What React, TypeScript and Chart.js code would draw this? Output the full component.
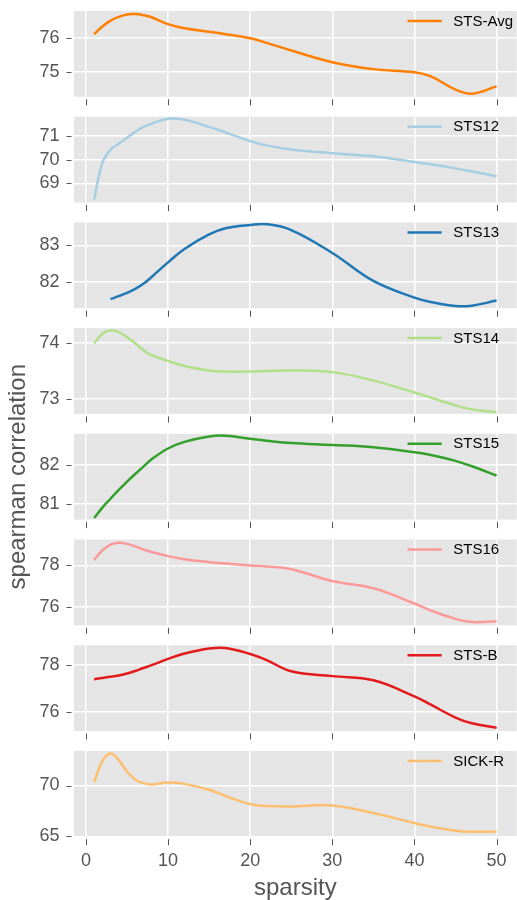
import React, { useEffect, useRef } from "react";
import { Chart, registerables } from "chart.js";

Chart.register(...registerables);

// ---------------- data ----------------
const sparsity = [1, 2, 3, 4, 5, 6, 7, 8, 10, 12, 15, 17, 20, 22, 25, 30, 35, 40, 42, 45, 47, 50];

const stsAvg = [76.1, 76.32, 76.49, 76.6, 76.67, 76.68, 76.65, 76.59, 76.39, 76.27, 76.17, 76.1, 75.98, 75.85, 75.63, 75.29, 75.09, 75.0, 74.88, 74.5, 74.38, 74.59];
const sts12 = [68.31, 69.86, 70.42, 70.67, 70.92, 71.17, 71.38, 71.52, 71.72, 71.68, 71.38, 71.15, 70.78, 70.6, 70.43, 70.27, 70.14, 69.9, 69.8, 69.63, 69.5, 69.3];
const sts13 = [null, null, 81.52, 81.6, 81.69, 81.8, 81.94, 82.13, 82.53, 82.9, 83.3, 83.47, 83.56, 83.58, 83.42, 82.79, 82.02, 81.56, 81.44, 81.33, 81.34, 81.48];
const sts14 = [73.99, 74.16, 74.22, 74.19, 74.1, 73.99, 73.87, 73.78, 73.68, 73.59, 73.51, 73.49, 73.49, 73.5, 73.51, 73.48, 73.33, 73.12, 73.03, 72.89, 72.82, 72.77];
const sts15 = [80.63, 80.9, 81.13, 81.36, 81.57, 81.77, 81.96, 82.15, 82.43, 82.6, 82.74, 82.76, 82.68, 82.63, 82.57, 82.52, 82.46, 82.33, 82.26, 82.11, 81.97, 81.73];
const sts16 = [78.27, 78.72, 79.0, 79.09, 79.04, 78.92, 78.77, 78.65, 78.45, 78.3, 78.16, 78.09, 78.0, 77.95, 77.82, 77.25, 76.9, 76.17, 75.83, 75.43, 75.28, 75.31];
const stsB = [77.4, 77.45, 77.5, 77.56, 77.64, 77.75, 77.88, 78.0, 78.27, 78.5, 78.72, 78.74, 78.48, 78.22, 77.74, 77.53, 77.35, 76.66, 76.3, 75.75, 75.5, 75.31];
const sickR = [70.33, 72.4, 73.15, 72.5, 71.37, 70.6, 70.23, 70.1, 70.3, 70.16, 69.58, 68.97, 68.17, 67.98, 67.94, 68.04, 67.29, 66.31, 65.95, 65.56, 65.45, 65.49];

const seriesLabels = ["STS-Avg", "STS12", "STS13", "STS14", "STS15", "STS16", "STS-B", "SICK-R"];
const seriesValues = [stsAvg, sts12, sts13, sts14, sts15, sts16, stsB, sickR];
const seriesColors = ["#ff7f00", "#a6cee3", "#1f78b4", "#b2df8a", "#33a02c", "#fb9a99", "#e31a1c", "#fdbf6f"];

const xTicks = [0, 10, 20, 30, 40, 50];
const xLimits = [-1.45, 52.45];
const yTicks = [[75, 76], [69, 70, 71], [82, 83], [73, 74], [81, 82], [76, 78], [76, 78], [65, 70]];
const yLimits = [
  [74.29, 76.77],
  [68.19, 71.81],
  [81.27, 83.63],
  [72.74, 74.26],
  [80.59, 82.81],
  [75.12, 79.25],
  [75.17, 78.86],
  [64.97, 73.4],
];

const xTitle = "sparsity";
const yTitle = "spearman correlation";

// ---------------- layout ----------------
const W = 517;
const FONT = "'Liberation Sans', Arial, Helvetica, sans-serif";
const PANEL_TOP0 = 11;
const PANEL_STEP = 105.7;
const PANEL_H = 85.8;
const AXIS_W = 74;
const TITLE_PANEL = 4;

function panelGeom(i: number) {
  const top = PANEL_TOP0 + PANEL_STEP * i;
  const bottom = top + PANEL_H;
  let cTop = Math.floor(top) - 8;
  let cBottom = Math.floor(bottom) + 13;
  if (i === TITLE_PANEL) {
    cTop = 350;
    cBottom = 605;
  }
  if (i === seriesLabels.length - 1) cBottom = 900;
  return { top, bottom, cTop, cBottom };
}

const bgPlugin = {
  id: "ggBg",
  beforeDraw(chart: any) {
    const { ctx, chartArea } = chart;
    ctx.save();
    ctx.fillStyle = "#e5e5e5";
    ctx.fillRect(chartArea.left, chartArea.top, chartArea.right - chartArea.left, chartArea.bottom - chartArea.top);
    ctx.restore();
  },
};

const tickMarkPlugin = {
  id: "ggTicks",
  afterDraw(chart: any) {
    const { ctx, chartArea } = chart;
    const xs = chart.scales.x;
    const ys = chart.scales.y;
    ctx.save();
    ctx.strokeStyle = "#555555";
    ctx.lineWidth = 1;
    ctx.beginPath();
    xs.ticks.forEach((t: any) => {
      const px = Math.round(xs.getPixelForValue(t.value)) + 0.5;
      ctx.moveTo(px, chartArea.bottom + 2.5);
      ctx.lineTo(px, chartArea.bottom + 8.5);
    });
    ys.ticks.forEach((t: any) => {
      const py = Math.round(ys.getPixelForValue(t.value)) + 0.5;
      ctx.moveTo(chartArea.left - 2.5, py);
      ctx.lineTo(chartArea.left - 7.5, py);
    });
    ctx.stroke();
    ctx.restore();
  },
};

const legendPlugin = {
  id: "ggLegend",
  afterDraw(chart: any) {
    const { ctx, chartArea } = chart;
    const ds = chart.data.datasets[0];
    const y = chartArea.top + 10;
    ctx.save();
    ctx.strokeStyle = ds.borderColor;
    ctx.lineWidth = 2.5;
    ctx.beginPath();
    ctx.moveTo(chartArea.right - 109.2, y);
    ctx.lineTo(chartArea.right - 75, y);
    ctx.stroke();
    ctx.font = `15px ${FONT}`;
    ctx.fillStyle = "#000000";
    ctx.textBaseline = "middle";
    ctx.textAlign = "left";
    ctx.fillText(ds.label, chartArea.right - 63.4, y + 0.5);
    ctx.restore();
  },
};

function Panel({ index }: { index: number }) {
  const ref = useRef<HTMLCanvasElement | null>(null);
  const g = panelGeom(index);
  const h = g.cBottom - g.cTop;
  const isLast = index === seriesLabels.length - 1;

  useEffect(() => {
    if (!ref.current) return;
    const vals = seriesValues[index];
    const chart = new Chart(ref.current, {
      type: "line",
      data: {
        datasets: [
          {
            label: seriesLabels[index],
            data: sparsity.map((x, j) => ({ x, y: vals[j] })) as any,
            borderColor: seriesColors[index],
            backgroundColor: seriesColors[index],
            borderWidth: 2.5,
            pointRadius: 0,
            fill: false,
            tension: 0.4,
            spanGaps: false,
          },
        ],
      },
      options: {
        animation: false,
        responsive: false,
        maintainAspectRatio: false,
        devicePixelRatio: 1,
        events: [],
        layout: { padding: { top: g.top - g.cTop, right: 0.3, bottom: 0, left: 0 } },
        plugins: { legend: { display: false }, tooltip: { enabled: false } },
        scales: {
          x: {
            type: "linear",
            min: xLimits[0],
            max: xLimits[1],
            afterBuildTicks: (s: any) => {
              s.ticks = xTicks.map((v) => ({ value: v }));
            },
            afterFit: (s: any) => {
              s.height = g.cBottom - g.bottom;
              s.paddingLeft = 0;
              s.paddingRight = 0;
              s.paddingTop = 0;
              s.paddingBottom = 0;
            },
            grid: { color: "#ffffff", lineWidth: 1.5, drawTicks: false },
            border: { display: false },
            ticks: {
              display: isLast,
              padding: 14,
              color: "#555555",
              font: { size: 18, family: FONT },
              maxRotation: 0,
              autoSkip: false,
            },
            title: {
              display: isLast,
              text: xTitle,
              color: "#555555",
              font: { size: 24, family: FONT },
              padding: { top: 0, bottom: -3 },
            },
          },
          y: {
            type: "linear",
            min: yLimits[index][0],
            max: yLimits[index][1],
            afterBuildTicks: (s: any) => {
              s.ticks = yTicks[index].map((v) => ({ value: v }));
            },
            afterFit: (s: any) => {
              s.width = AXIS_W;
              s.paddingLeft = 0;
              s.paddingRight = 0;
              s.paddingTop = 0;
              s.paddingBottom = 0;
            },
            grid: { color: "#ffffff", lineWidth: 1.5, drawTicks: false },
            border: { display: false },
            ticks: {
              padding: 14.5,
              color: "#555555",
              font: { size: 18, family: FONT },
              autoSkip: false,
            },
            title: {
              display: index === TITLE_PANEL,
              text: yTitle,
              color: "#555555",
              font: { size: 24, family: FONT },
              padding: { top: 4, bottom: 4 },
            },
          },
        },
      },
      plugins: [bgPlugin, tickMarkPlugin, legendPlugin],
    });
    return () => chart.destroy();
  }, [index]);

  return (
    <canvas
      ref={ref}
      width={W}
      height={h}
      style={{ position: "absolute", left: 0, top: g.cTop, width: W, height: h, display: "block" }}
    />
  );
}

export default function App() {
  return (
    <div style={{ position: "absolute", left: 0, top: 0, width: W, height: 900, background: "#ffffff", overflow: "hidden" }}>
      {seriesLabels.map((_, i) => (
        <Panel key={i} index={i} />
      ))}
    </div>
  );
}
